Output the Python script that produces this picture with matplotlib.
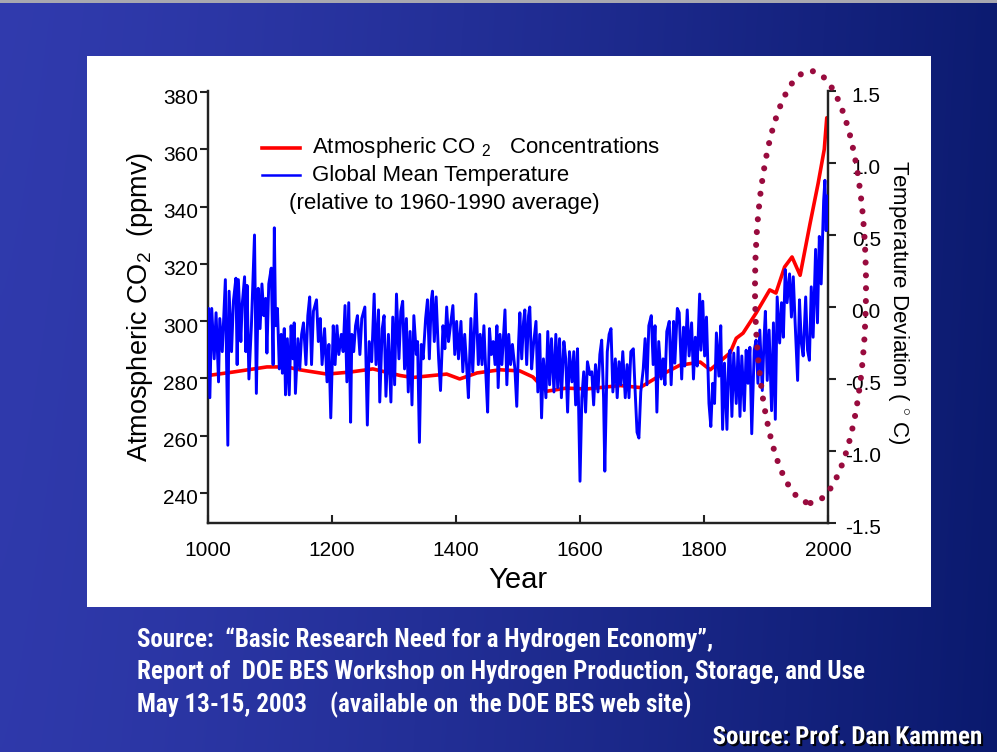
import numpy as np
import matplotlib
matplotlib.use("Agg")
import matplotlib.pyplot as plt
from matplotlib import font_manager
from matplotlib.patches import Ellipse, Rectangle
from matplotlib.lines import Line2D
from matplotlib import patheffects
from matplotlib.transforms import ScaledTranslation

# ---------------- data ----------------
years_ticks = [1000, 1200, 1400, 1600, 1800, 2000]
co2_ticks = [240, 260, 280, 300, 320, 340, 360, 380]
temp_ticks = [-1.5, -1.0, -0.5, 0.0, 0.5, 1.0, 1.5]
temp_tick_labels = ["-1.5", "-1.0", "-0.5", "0.0", "0.5", "1.0", "1.5"]

# Atmospheric CO2 concentration (ppmv)
co2_years = [1000, 1040, 1095, 1127, 1148, 1192, 1229, 1266, 1310, 1330,
             1385, 1406, 1434, 1471, 1503, 1524, 1546, 1578, 1610, 1642,
             1665, 1697, 1729, 1761, 1794, 1810, 1842, 1852, 1863, 1884,
             1906, 1916, 1930, 1942, 1955, 1971, 1984, 1994, 1998]
co2_ppmv = [281.0, 282.2, 284.0, 284.0, 283.0, 281.5, 282.2, 283.3, 281.0, 280.3,
            281.5, 279.8, 281.9, 283.0, 282.6, 280.5, 275.5, 276.6, 276.3, 277.0,
            277.5, 276.8, 281.0, 284.6, 285.7, 283.0, 288.9, 294.0, 295.8, 302.8,
            310.9, 309.8, 318.9, 322.4, 316.0, 334.0, 348.0, 360.0, 371.0]

# Global mean temperature deviation (deg C, relative to 1960-1990)
temp_years = [
    1000, 1001, 1003, 1006, 1010, 1013, 1017, 1019, 1023, 1028,
    1032, 1034, 1038, 1041, 1045, 1047, 1049, 1053, 1055, 1059,
    1061, 1063, 1066, 1070, 1075, 1078, 1081, 1084, 1087, 1090,
    1093, 1095, 1098, 1102, 1105, 1107, 1109, 1112, 1115, 1118,
    1120, 1123, 1125, 1128, 1131, 1134, 1137, 1139, 1141, 1145,
    1148, 1151, 1154, 1158, 1161, 1164, 1167, 1170, 1175, 1178,
    1181, 1184, 1188, 1192, 1195, 1198, 1202, 1205, 1208, 1211,
    1215, 1218, 1221, 1224, 1227, 1230, 1232, 1235, 1238, 1241,
    1245, 1248,
    1253, 1257, 1260, 1264, 1268, 1271, 1275, 1277, 1281, 1284,
    1287, 1291, 1295, 1298, 1301, 1304, 1308, 1311, 1314, 1317,
    1320, 1323, 1326, 1329, 1332, 1336, 1338, 1341, 1344, 1347,
    1351, 1354, 1357, 1360, 1362, 1365, 1368, 1372, 1375, 1379,
    1382, 1385, 1388, 1391, 1395, 1398, 1401, 1404, 1408, 1411,
    1414, 1417, 1420, 1424, 1427, 1430, 1432, 1436, 1439, 1442,
    1445, 1448, 1451, 1454, 1457, 1460, 1463, 1466, 1468, 1471,
    1474, 1479, 1482, 1485, 1488, 1491, 1495, 1498, 1501,
    1503, 1506, 1509, 1511, 1514, 1517, 1519, 1522, 1525, 1529,
    1532, 1535, 1538, 1541, 1545, 1548, 1551, 1554, 1558, 1561,
    1564, 1567, 1570, 1574, 1577, 1580, 1583, 1587, 1590, 1593,
    1596, 1600, 1603, 1606, 1609, 1612, 1616, 1619, 1622, 1625,
    1629, 1632, 1635, 1638, 1640, 1644, 1647, 1650, 1653, 1657,
    1660, 1663, 1666, 1669, 1673, 1676, 1679, 1682, 1686, 1689,
    1692, 1695, 1698, 1702, 1705, 1708, 1711, 1715, 1718, 1721,
    1724, 1727, 1731, 1734, 1737, 1740, 1744, 1747,
    1751, 1753, 1757, 1760, 1764, 1767, 1769, 1773, 1776, 1780,
    1783, 1786, 1789, 1793, 1795, 1798, 1801, 1804, 1808, 1811,
    1814, 1817, 1820, 1824, 1827, 1830, 1833, 1837, 1840, 1842,
    1845, 1848, 1852, 1855, 1858, 1861, 1865, 1868, 1871, 1874,
    1877, 1881, 1884, 1887, 1890, 1894, 1897, 1899, 1902, 1905,
    1909, 1912, 1915, 1918, 1922, 1925, 1928, 1931, 1934, 1938,
    1941, 1944, 1947, 1951, 1954, 1957, 1960, 1964, 1967, 1970,
    1973, 1976, 1980, 1983, 1986, 1989, 1993, 1995, 1997, 1999,
    2000]
temp_dev = [
    -0.20, -0.01, -0.63, -0.01, -0.36, -0.04, -0.52, -0.08, -0.31, 0.19,
    -0.96, 0.11, -0.31, 0.04, 0.20, -0.40, 0.19, -0.24, 0.01, 0.21,
    -0.31, 0.15, -0.50, -0.13, 0.50, -0.60, 0.13, -0.15, 0.16, -0.06,
    0.06, -0.32, 0.16, 0.27, -0.40, 0.55, -0.13, -0.01, -0.43, -0.19,
    -0.46, -0.15, -0.61, -0.22, -0.61, -0.13, -0.36, -0.11, -0.60, -0.22,
    -0.43, -0.19, -0.11, -0.40, -0.06, 0.07, -0.40, -0.03, 0.05, -0.24,
    -0.08, -0.40, -0.15, -0.52, -0.26, -0.77, -0.13, -0.40, -0.13, -0.33,
    -0.19, -0.31, 0.01, -0.52, 0.03, -0.80, -0.19, -0.31, -0.13, -0.06,
    -0.33, -0.08,
    0.00, -0.82, -0.24, -0.38, 0.09, -0.40, -0.02, -0.66, -0.15, -0.06,
    -0.62, -0.19, -0.66, -0.07, -0.54, 0.09, -0.36, -0.03, 0.04, -0.43,
    -0.08, -0.59, -0.17, -0.68, -0.06, -0.33, -0.24, -0.94, -0.26, -0.36,
    -0.08, 0.05, -0.36, 0.04, 0.11, -0.24, 0.07, -0.36, -0.58, -0.13,
    -0.29, 0.00, -0.24, -0.13, 0.01, -0.33, -0.10, -0.36, -0.10, -0.45,
    -0.19, -0.40, -0.63, -0.08, -0.45, -0.13, 0.09, -0.40, -0.19, -0.40,
    -0.13, -0.45, -0.73, -0.15, -0.33, -0.24, -0.40, -0.13, -0.56, -0.19,
    -0.40, -0.02, -0.54, -0.19, -0.40, -0.26, -0.43, -0.69, -0.24,
    -0.04, -0.36, -0.10, -0.02, -0.40, -0.06, 0.00, -0.43, -0.26, -0.10,
    -0.59, -0.19, -0.77, -0.36, -0.63, -0.17, -0.54, -0.22, -0.59, -0.19,
    -0.56, -0.22, -0.63, -0.24, -0.36, -0.73, -0.31, -0.52, -0.31, -0.68,
    -0.29, -1.21, -0.63, -0.45, -0.73, -0.38, -0.47, -0.45, -0.68, -0.40,
    -0.59, -0.33, -0.23, -0.63, -1.14, -0.31, -0.19, -0.15, -0.59, -0.36,
    -0.63, -0.38, -0.54, -0.31, -0.63, -0.40, -0.63, -0.31, -0.29, -0.59,
    -0.87, -0.91, -0.59, -0.43, -0.22, -0.54, -0.13, -0.06, -0.40, -0.13,
    -0.73, -0.24, -0.50, -0.36, -0.54, -0.17, -0.10, -0.54,
    -0.10, -0.39, -0.01, -0.04, -0.50, -0.14, -0.41, -0.02, -0.34, -0.11,
    -0.50, -0.21, -0.41, 0.09, -0.30, 0.04, -0.34, -0.07, -0.67, -0.83,
    -0.53, -0.67, -0.18, -0.48, -0.13, -0.85, -0.39, -0.85, -0.34, -0.30,
    -0.76, -0.32, -0.67, -0.28, -0.76, -0.34, -0.72, -0.30, -0.53, -0.28,
    -0.88, -0.30, -0.23, -0.53, -0.16, -0.58, -0.21, -0.03, -0.51, -0.16,
    -0.72, -0.11, -0.78, 0.07, -0.25, 0.03, -0.21, 0.26, 0.03, 0.23,
    -0.07, 0.21, -0.11, -0.51, 0.05, -0.25, -0.34, 0.07, -0.30, -0.37,
    0.14, -0.21, 0.40, -0.11, 0.49, 0.16, 0.74, 0.88, 0.53, 0.74,
    0.77]

# ---------------- styling ----------------
plt.rcParams["font.family"] = ["Liberation Sans", "DejaVu Sans"]
plt.rcParams["mathtext.fontset"] = "custom"
plt.rcParams["mathtext.rm"] = "Liberation Sans"
plt.rcParams["mathtext.it"] = "Liberation Sans"

# narrow face for the slide notes, if one is installed
installed = {f.name for f in font_manager.fontManager.ttflist}
narrow = next((n for n in ("Liberation Sans Narrow", "Roboto Condensed",
                           "Open Sans Condensed")
               if n in installed), None)
if narrow is not None:
    note_font, note_size = [narrow, "Liberation Sans"], 18
else:
    note_font, note_size = ["Liberation Sans", "DejaVu Sans"], 15

W, H = 997, 752
fig = plt.figure(figsize=(W / 100, H / 100), dpi=100)


def fx(px):
    return px / W


def fy(py):
    return 1 - py / H


# slide background: blue gradient
bg = fig.add_axes([0, 0, 1, 1])
bg.set_axis_off()
gx = np.linspace(0, 1, 400)
gy = np.linspace(0, 1, 300)
GX, GY = np.meshgrid(gx, gy)
c_left = np.array([0.19, 0.23, 0.68])
c_right = np.array([0.04, 0.10, 0.43])
t = np.clip(GX ** 1.3 * 0.95 + 0.05 * GY, 0, 1)[..., None]
img = c_left * (1 - t) + c_right * t
bg.imshow(img, extent=[0, 1, 0, 1], aspect="auto", origin="upper")
bg.set_xlim(0, 1)
bg.set_ylim(0, 1)
bg.add_patch(Rectangle((0, fy(3)), 1, 3 / H, color="#a8a8b0", lw=0))

# white chart panel
fig.patches.append(Rectangle((fx(87), fy(607)), (931 - 87) / W, (607 - 56) / H,
                             transform=fig.transFigure, facecolor="white",
                             edgecolor="none", zorder=1))

# ---------------- chart ----------------
ax = fig.add_axes([fx(208), fy(523), (828 - 208) / W, (523 - 91) / H])
ax.set_zorder(2)
ax.patch.set_alpha(0)
ax.set_xlim(1000, 2000)
ax.set_ylim(229.5, 380.35)
ax.plot(co2_years, co2_ppmv, color="#ff0000", lw=2.6, solid_capstyle="round",
        solid_joinstyle="round", zorder=2)

ax2 = ax.twinx()
ax2.set_ylim(-1.5, 1.5)
ax2.plot(temp_years, temp_dev, color="#0000ff", lw=2.1, zorder=3)

spine_c = "#222222"
for a in (ax, ax2):
    a.spines["top"].set_visible(False)
    for s in ("left", "right", "bottom"):
        a.spines[s].set_linewidth(1.6)
        a.spines[s].set_color(spine_c)

ax.set_xticks(years_ticks)
ax.set_xticklabels([str(y) for y in years_ticks])
ax.set_yticks(co2_ticks)
ax.set_yticklabels([str(v) for v in co2_ticks])
ax.tick_params(axis="x", direction="in", length=6, width=1.5, color=spine_c,
               labelsize=15, pad=13)
ax.tick_params(axis="y", direction="out", length=6, width=1.5, color=spine_c,
               labelsize=15, pad=1)

ax2.set_yticks(temp_ticks)
ax2.set_yticklabels(temp_tick_labels)
ax2.tick_params(axis="y", direction="out", length=6, width=1.5, color=spine_c,
                labelsize=15, pad=32)
for lab in ax2.get_yticklabels():
    lab.set_horizontalalignment("right")

# tick labels sit slightly below their tick marks
shift = ScaledTranslation(0, -4 / 100, fig.dpi_scale_trans)
for lab in ax.get_yticklabels() + ax2.get_yticklabels():
    lab.set_transform(lab.get_transform() + shift)

ax.set_xlabel("Year", fontsize=21, labelpad=4)
ax.set_ylabel(r"Atmospheric CO$_2$  (ppmv)", fontsize=19.5)
ax2.set_ylabel(r"Temperature Deviation ( $^{\circ}$ C)", fontsize=16,
               rotation=270)
ax.yaxis.label.set_ha("center")
ax.yaxis.label.set_va("center")
ax2.yaxis.label.set_ha("center")
ax2.yaxis.label.set_va("center")
ax.yaxis.set_label_coords((140 - 208) / 620, 0.5)
ax2.yaxis.set_label_coords((898 - 208) / 620, 0.5 + 5 / 432)

# legend block
fig.add_artist(Line2D([fx(262), fx(300)], [fy(148), fy(148)], color="#ff0000",
                      lw=2.6, transform=fig.transFigure))
fig.add_artist(Line2D([fx(262), fx(300)], [fy(175), fy(175)], color="#0000ff",
                      lw=1.8, transform=fig.transFigure))
fig.text(fx(312), fy(148), r"Atmospheric CO ${}_2$   Concentrations",
         fontsize=16, va="center", ha="left")
fig.text(fx(312), fy(175), "Global Mean Temperature", fontsize=16,
         va="center", ha="left")
fig.text(fx(289), fy(203), "(relative to 1960-1990 average)", fontsize=16,
         va="center", ha="left")

# dotted highlight around the recent rise
ring = Ellipse((fx(810.5), fy(287)), 111 / W, 432 / H, transform=fig.transFigure,
               fill=False, edgecolor="#990b3e", linewidth=4.4,
               linestyle=(0, (0.001, 2.1)), zorder=10)
ring.set_capstyle("round")
fig.add_artist(ring)

# source notes
notes = ["Source:  \u201cBasic Research Need for a Hydrogen Economy\u201d,",
         "Report of  DOE BES Workshop on Hydrogen Production, Storage, and Use",
         "May 13-15, 2003    (available on  the DOE BES web site)"]
for i, line in enumerate(notes):
    fig.text(fx(137), fy(640 + 32.5 * i), line, color="white",
             fontsize=note_size, fontweight="bold", family=note_font,
             va="center", ha="left")
fig.text(fx(982), fy(737), "Source: Prof. Dan Kammen", color="white",
         fontsize=note_size, fontweight="bold", family=note_font, va="center",
         ha="right",
         path_effects=[patheffects.withSimplePatchShadow(offset=(1.5, -1.5),
                                                         shadow_rgbFace="black",
                                                         alpha=0.9)])

fig.savefig("out.png", dpi=100)
